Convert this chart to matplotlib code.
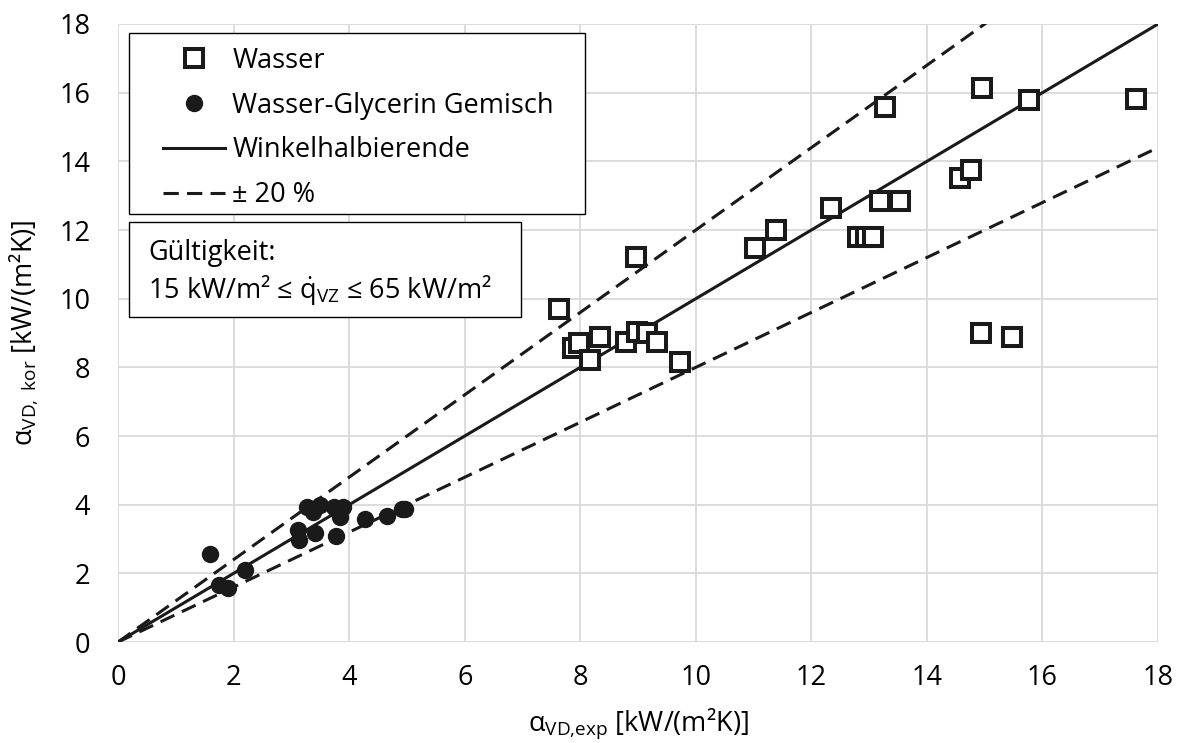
import numpy as np
import matplotlib
matplotlib.use("Agg")
import matplotlib.pyplot as plt
from matplotlib.patches import Rectangle

# Wasser (open squares)
wasser_x = [7.64, 8.96, 7.88, 7.97, 8.17, 8.34, 8.80, 8.98, 9.15, 9.32, 9.73,
            11.02, 11.39, 12.34, 12.81, 12.94, 13.07, 13.19, 13.53, 13.27,
            14.58, 14.77, 14.95, 15.77, 17.62, 14.93, 15.48]
wasser_y = [9.69, 11.21, 8.55, 8.72, 8.20, 8.89, 8.74, 9.04, 9.00, 8.75, 8.17,
            11.47, 12.00, 12.63, 11.80, 11.80, 11.80, 12.85, 12.85, 15.58,
            13.52, 13.75, 16.13, 15.79, 15.81, 8.99, 8.87]

# Wasser-Glycerin Gemisch (filled circles)
glyc_x = [1.60, 1.75, 1.91, 2.20, 3.12, 3.14, 3.27, 3.41, 3.38, 3.50, 3.73,
          3.84, 3.90, 3.78, 4.27, 4.65, 4.91, 4.97]
glyc_y = [2.56, 1.66, 1.56, 2.10, 3.26, 2.97, 3.94, 3.17, 3.80, 3.99, 3.94,
          3.65, 3.94, 3.08, 3.58, 3.67, 3.86, 3.88]

ref_x = [0, 18]
ticks = list(range(0, 19, 2))

plt.rcParams['font.family'] = ['Open Sans', 'DejaVu Sans']
plt.rcParams['mathtext.fontset'] = 'custom'
plt.rcParams['mathtext.rm'] = 'Open Sans'
plt.rcParams['mathtext.it'] = 'Open Sans:italic'
plt.rcParams['mathtext.fallback'] = 'stixsans'

fig = plt.figure(figsize=(11.77, 7.43), dpi=100)
ax = fig.add_axes([0.1003, 0.1359, 0.8836, 0.8318])

fs = 19.5
ink = '#1a1a1a'
ax.plot(wasser_x, wasser_y, linestyle='none', marker='s', markersize=12.5,
        markerfacecolor='white', markeredgecolor=ink, markeredgewidth=2.9,
        label='Wasser', zorder=4)
ax.plot(glyc_x, glyc_y, linestyle='none', marker='o', markersize=11.5,
        color=ink, label='Wasser-Glycerin Gemisch', zorder=5)
ax.plot(ref_x, ref_x, color=ink, lw=2.2, label='Winkelhalbierende', zorder=3)
ax.plot(ref_x, [1.2 * v for v in ref_x], color=ink, lw=2.2,
        dashes=(5, 2.7), label='± 20 %', zorder=3)
ax.plot(ref_x, [0.8 * v for v in ref_x], color=ink, lw=2.2,
        dashes=(5, 2.7), zorder=3)

ax.set_xlim(0, 18)
ax.set_ylim(0, 18)
ax.set_xticks(ticks)
ax.set_yticks(ticks)
ax.tick_params(length=0, labelsize=fs)
ax.tick_params(axis='x', pad=16)
ax.tick_params(axis='y', pad=20)
ax.grid(True, color='#d9d9d9', lw=1.3)
ax.set_axisbelow(True)
for s in ax.spines.values():
    s.set_visible(False)

ax.set_xlabel(r'$\mathrm{α_{VD{,}exp}}$ [kW/(m²K)]', fontsize=fs, labelpad=10)
ax.set_ylabel(r'$\mathrm{α_{VD,\ kor}}$ [kW/(m²K)]', fontsize=fs, labelpad=14)

# legend frame drawn separately so its size matches the original
ax.add_patch(Rectangle((0.0106, 0.6926), 0.4385, 0.2924, transform=ax.transAxes,
                       facecolor='white', edgecolor='black', lw=1.0, zorder=6))
leg = ax.legend(loc='upper left', bbox_to_anchor=(0.0433, 0.963), borderaxespad=0,
                fontsize=fs, frameon=False, handlelength=2.3,
                handletextpad=0.25, labelspacing=0.62, borderpad=0)
leg.set_zorder(7)

ax.add_patch(Rectangle((0.0106, 0.526), 0.377, 0.154, transform=ax.transAxes,
                       facecolor='white', edgecolor='black', lw=1.0, zorder=6))
ax.text(0.029, 0.629, 'Gültigkeit:', transform=ax.transAxes, fontsize=fs,
        va='center', ha='left', zorder=7)
ax.text(0.029, 0.570, r'15 kW/m² ≤ $\dot{\mathrm{q}}_{\mathrm{VZ}}$ ≤ 65 kW/m²',
        transform=ax.transAxes, fontsize=fs, va='center', ha='left', zorder=7)

fig.savefig('out.png', dpi=100)
